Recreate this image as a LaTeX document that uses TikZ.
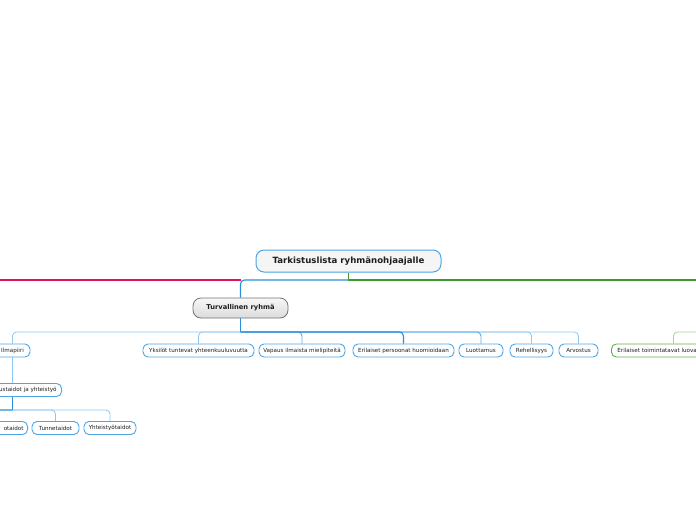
\documentclass[tikz,border=0pt]{standalone}
\usepackage{fontspec}
\setmainfont{DejaVu Sans}
\definecolor{bdark}{HTML}{2A8FDB}
\definecolor{blight}{HTML}{8CC8F2}
\definecolor{bmid}{HTML}{55AAE8}
\definecolor{bbox}{HTML}{4DA6E6}
\definecolor{pinkc}{HTML}{E0125A}
\definecolor{greenc}{HTML}{3F9A2C}
\definecolor{greenl}{HTML}{A3D592}
\definecolor{greenbox}{HTML}{62AE47}
\definecolor{txt}{HTML}{1E1E1E}
\begin{document}
\begin{tikzpicture}[x=1pt,y=-1pt,
  rootbox/.style={draw=bbox,line width=1pt,rounded corners=8pt,fill=black!4,
    minimum width=185pt,minimum height=22pt,inner sep=0pt,text=txt,
    font=\fontsize{8.6}{9}\selectfont\bfseries},
  mainbox/.style={draw=black!55,line width=0.8pt,rounded corners=8pt,
    top color=black!3,bottom color=black!14,
    minimum width=95pt,minimum height=20pt,inner sep=0pt,text=txt,
    font=\fontsize{6.7}{7}\selectfont\bfseries},
  leaf/.style={draw=bbox,line width=0.9pt,rounded corners=5pt,fill=white,
    minimum height=13pt,inner ysep=0pt,inner xsep=0pt,text=txt,
    font=\fontsize{5.6}{6}\selectfont},
  gleaf/.style={leaf,draw=greenbox},
  conn/.style={line width=1.1pt,rounded corners=4pt},
  dconn/.style={conn,draw=bdark},
  mconn/.style={conn,draw=bmid,line width=0.9pt},
  lconn/.style={conn,draw=blight,line width=0.8pt}]
\useasboundingbox (0,0) rectangle (696,520);
\clip (0,0) rectangle (696,520);

% nodes
\node[rootbox] (root) at (348.5,261) {Tarkistuslista ryhmänohjaajalle};
\node[mainbox] (turv) at (240.5,308) {Turvallinen ryhmä};

\node[leaf,minimum width=35pt] (ilma) at (12.5,350.5) {Ilmapiiri};
\node[leaf,minimum width=111pt] (yks) at (198.5,350.5) {Yksilöt tuntevat yhteenkuuluvuutta};
\node[leaf,minimum width=86pt] (vap) at (302,350.5) {Vapaus ilmaista mielipiteitä};
\node[leaf,minimum width=101pt] (eri) at (403.5,350.5) {Erilaiset persoonat huomioidaan};
\node[leaf,minimum width=44pt] (luo) at (481,350.5) {Luottamus};
\node[leaf,minimum width=43pt] (reh) at (531.5,350.5) {Rehellisyys};
\node[leaf,minimum width=39pt] (arv) at (578.5,350.5) {Arvostus};

\node[gleaf,anchor=west,text width=112pt,inner xsep=6pt,align=left] (toim) at (611,350.5) {Erilaiset toimintatavat luovat};

\node[leaf,anchor=east,text width=86pt,inner xsep=5pt,align=right] (ust) at (62,390) {ustaidot ja yhteistyö};

\node[leaf,anchor=east,text width=60pt,inner xsep=4pt,align=right] (ota) at (28,428) {otaidot};
\node[leaf,minimum width=47pt] (tun) at (55.5,428) {Tunnetaidot};
\node[leaf,minimum width=52pt] (yht) at (110,428) {Yhteistyötaidot};

% coordinates
\coordinate (rj) at (348.5,280);
\coordinate (pinkend) at (-20,280);
\coordinate (greenend) at (720,280);
\coordinate (gpar) at (720,332);
\coordinate (tj) at (240.5,332);
\coordinate (uj) at (12.5,410);

% main branches
\draw[line width=1.1pt,draw=pinkc] (turv.north |- rj) -- (pinkend);
\draw[dconn] (rj) -| (turv.north);
\draw[line width=1.1pt,draw=greenc] (root.south) -- (rj) -- (greenend);

% children of Turvallinen ryhmä
\draw[lconn] (tj) -| (ilma.north);
\draw[lconn] (tj) -| (yks.north);
\draw[lconn] (tj) -| (arv.north);
\draw[lconn] (tj) -| (reh.north);
\draw[mconn] (tj) -| (luo.north);
\draw[mconn] (tj) -| (vap.north);
\draw[dconn] (tj) -| (eri.north);
\draw[dconn] (turv.south) -- (tj);

% Ilmapiiri subtree
\draw[lconn] (ilma.south) -- (ilma.south |- ust.north);
\draw[lconn] (uj) -| (yht.north);
\draw[lconn] (uj) -| (tun.north);
\draw[dconn] (uj) -| (ota.north);
\draw[dconn] (ilma.south |- ust.south) -- (uj);

% green branch child
\draw[conn,draw=greenl,line width=0.8pt] (gpar) -| (toim.north);
\end{tikzpicture}
\end{document}
